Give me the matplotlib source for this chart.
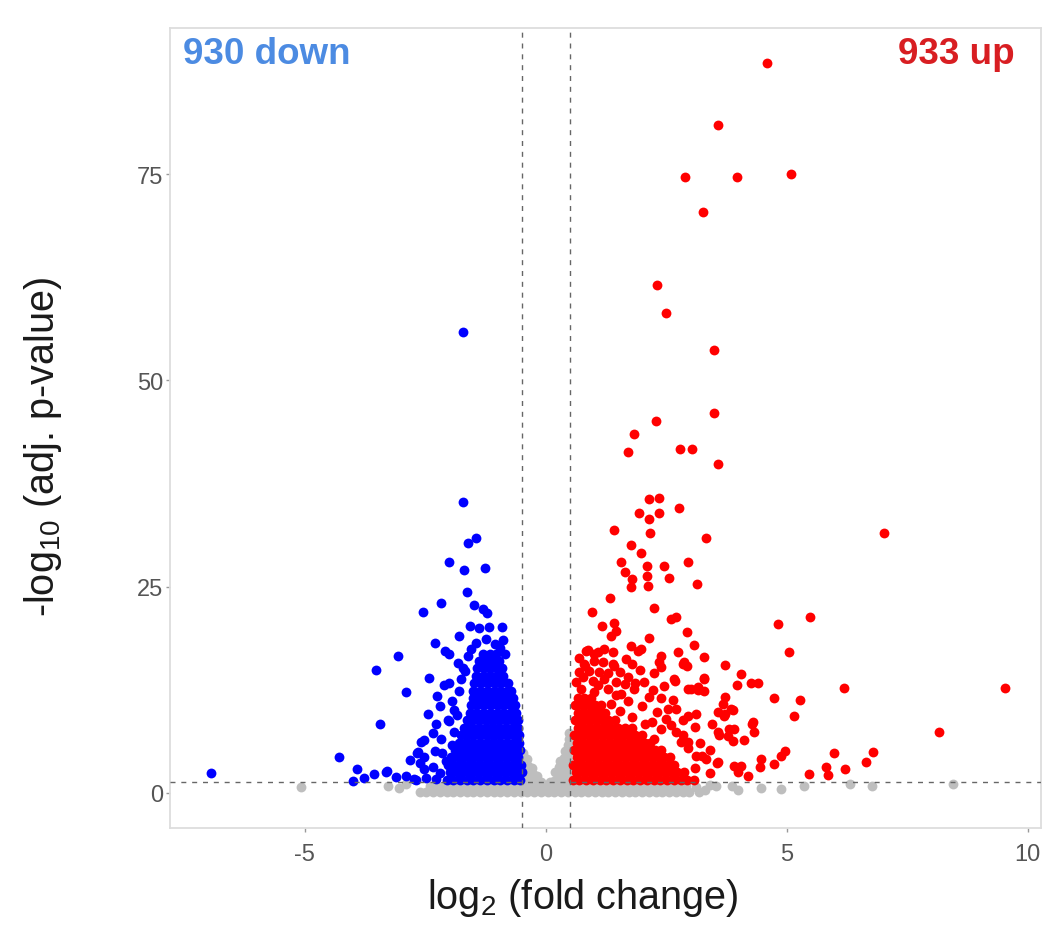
import matplotlib
import matplotlib.pyplot as plt

matplotlib.use('Agg')
plt.rcParams['font.family'] = ['Liberation Sans', 'DejaVu Sans']
plt.rcParams['mathtext.fontset'] = 'custom'
plt.rcParams['mathtext.rm'] = 'Liberation Sans'
plt.rcParams['axes.unicode_minus'] = False

# thresholds used for colouring
FC_CUT = 0.5
P_CUT = 1.3
n_down = 930
n_up = 933

# ---- up-regulated genes (log2 FC, -log10 adj p) ----
red_pts = [
    (4.59, 88.4), (3.57, 81.0), (2.88, 74.7), (3.96, 74.7), (5.10, 75.0), (3.26, 70.4),
    (2.30, 61.5), (2.49, 58.2), (3.49, 53.7), (3.49, 46.1), (2.28, 45.1), (1.83, 43.5),
    (1.70, 41.3), (2.78, 41.7), (3.03, 41.7), (3.57, 39.9), (7.03, 31.5), (3.32, 30.9),
    (2.14, 35.6), (2.34, 35.8), (1.93, 33.9), (2.14, 33.2), (2.36, 33.9), (2.76, 34.5),
    (1.41, 31.9), (2.16, 31.5), (1.76, 30.1), (1.97, 29.1), (1.56, 28.0), (2.10, 27.5),
    (2.45, 27.5), (2.95, 28.0), (1.64, 26.8), (1.80, 25.9), (2.10, 26.3), (2.12, 25.1),
    (1.76, 25.0), (2.55, 26.1), (3.13, 25.3), (1.33, 23.6), (2.24, 22.4), (0.95, 21.9),
    (2.59, 21.1), (2.70, 21.3), (1.16, 20.2), (1.41, 20.6), (1.45, 19.6), (1.35, 19.0),
    (2.93, 19.5), (2.14, 18.8), (4.83, 20.5), (5.48, 21.3), (3.07, 17.9), (0.87, 17.3),
    (1.08, 17.1), (1.76, 17.8), (1.91, 17.2), (2.74, 17.1), (2.39, 16.6), (2.34, 15.9),
    (3.28, 16.5), (5.04, 17.1), (0.81, 15.4), (1.39, 15.6), (2.84, 15.6), (2.93, 15.4),
    (3.73, 15.5), (4.05, 14.4), (4.25, 13.3), (4.40, 13.3), (2.68, 13.6), (2.03, 13.5),
    (3.28, 13.9), (3.96, 13.1), (3.01, 12.6), (3.15, 12.5), (3.28, 12.4), (6.18, 12.7),
    (9.54, 12.7), (4.73, 11.5), (5.27, 11.3), (3.71, 11.6), (3.67, 10.8), (3.57, 9.8),
    (3.73, 9.6), (3.88, 10.1), (5.15, 9.3), (4.30, 8.6), (4.32, 7.4), (8.17, 7.4),
    (3.80, 7.8), (4.11, 6.4), (3.88, 6.3), (3.59, 7.0), (4.96, 5.1), (4.88, 4.5),
    (5.98, 4.8), (4.46, 4.1), (4.44, 3.2), (4.73, 3.5), (4.05, 3.3), (4.00, 2.5),
    (5.46, 2.3), (5.81, 3.2), (5.85, 2.2), (6.22, 2.9), (6.64, 3.8), (6.80, 5.0),
    (4.20, 2.0), (3.40, 2.4), (3.55, 3.6), (3.25, 4.5), (3.10, 3.0),
    (0.83, 17.2), (1.00, 16.8), (1.20, 17.5), (1.39, 17.1), (1.97, 17.5), (0.79, 15.6),
    (1.00, 16.0), (1.18, 15.9), (1.41, 15.4), (1.66, 16.2), (1.80, 15.6), (2.39, 15.3),
    (2.86, 15.9), (0.77, 14.1), (0.98, 13.6), (1.20, 13.8), (1.45, 13.5), (1.70, 14.1),
    (2.66, 13.8), (2.95, 12.6), (3.15, 12.8), (3.28, 13.8), (0.73, 12.6), (1.00, 12.2),
    (1.29, 12.6), (1.56, 12.0), (1.83, 12.6), (2.14, 11.6), (2.53, 10.2), (2.70, 10.2),
    (2.95, 9.3), (3.11, 9.6), (3.57, 7.4), (3.69, 9.3), (3.84, 10.2), (3.90, 7.8),
    (4.29, 8.4), (3.78, 6.9), (3.11, 4.5), (3.32, 4.1), (3.57, 3.8), (3.90, 3.3),
    (2.95, 6.2), (2.70, 7.4), (2.39, 7.8), (2.24, 6.5), (0.62, 13.4), (0.68, 14.6),
    (0.90, 14.8), (1.08, 13.1), (0.70, 16.3), (1.10, 14.6), (1.30, 14.5), (1.55, 14.6),
    (1.65, 13.2), (1.85, 13.3), (1.95, 14.9), (2.25, 14.5), (2.45, 13.0), (2.22, 12.5),
    (2.40, 11.5), (1.70, 11.2), (2.00, 10.5), (2.30, 9.8), (2.50, 9.0), (2.60, 8.2),
    (2.20, 8.6), (2.85, 7.0), (2.95, 5.5), (3.20, 6.0), (3.40, 5.2), (2.80, 6.2),
    (3.45, 8.3), (3.10, 8.0), (2.85, 8.8), (2.65, 11.3), (1.35, 10.8), (1.55, 9.9),
    (1.80, 9.2), (2.05, 8.4), (1.45, 11.9),
]

# dense up-regulated core, read row by row: (-log10 p, log2 FC values)
red_core = [
    (1.6, [0.56, 0.70, 0.84, 0.98, 1.12, 1.26, 1.40, 1.54, 1.68, 1.82, 1.96, 2.10,
           2.24, 2.38, 2.52, 2.66, 2.80, 2.94, 3.08]),
    (2.5, [0.63, 0.77, 0.91, 1.05, 1.19, 1.33, 1.47, 1.61, 1.75, 1.89, 2.03, 2.17,
           2.31, 2.45, 2.59, 2.73, 2.87]),
    (3.4, [0.57, 0.71, 0.85, 0.99, 1.13, 1.27, 1.41, 1.55, 1.69, 1.83, 1.97, 2.11,
           2.25, 2.39, 2.53, 2.67]),
    (4.3, [0.64, 0.78, 0.92, 1.06, 1.20, 1.34, 1.48, 1.62, 1.76, 1.90, 2.04, 2.18,
           2.32, 2.46, 2.58]),
    (5.2, [0.58, 0.72, 0.86, 1.00, 1.14, 1.28, 1.42, 1.56, 1.70, 1.84, 1.98, 2.12,
           2.26, 2.40]),
    (6.1, [0.65, 0.79, 0.93, 1.07, 1.21, 1.35, 1.49, 1.63, 1.77, 1.91, 2.05, 2.17]),
    (7.0, [0.59, 0.73, 0.87, 1.01, 1.15, 1.29, 1.43, 1.57, 1.71, 1.85, 1.99]),
    (7.9, [0.66, 0.80, 0.94, 1.08, 1.22, 1.36, 1.50, 1.64, 1.78]),
    (8.8, [0.60, 0.74, 0.88, 1.02, 1.16, 1.30, 1.44]),
    (9.7, [0.67, 0.81, 0.95, 1.09, 1.23]),
    (10.6, [0.61, 0.75, 0.89, 1.03, 1.15]),
    (11.5, [0.66, 0.80, 0.94]),
]

# ---- down-regulated genes ----
blue_pts = [
    (-1.72, 55.8), (-1.72, 35.3), (-1.45, 30.9), (-1.62, 30.3), (-2.01, 28.0), (-1.70, 27.0),
    (-1.27, 27.3), (-1.64, 24.4), (-2.18, 23.0), (-2.55, 21.9), (-1.49, 22.8), (-1.31, 22.3),
    (-1.22, 21.8), (-1.58, 20.2), (-1.39, 20.0), (-1.18, 20.1), (-0.91, 20.1), (-1.80, 19.0),
    (-2.30, 18.2), (-2.10, 17.2), (-2.01, 16.8), (-3.07, 16.6), (-1.83, 15.8), (-1.72, 15.2),
    (-2.43, 13.9), (-2.90, 12.2), (-2.12, 13.1), (-2.01, 13.3), (-3.53, 14.9), (-2.45, 9.6),
    (-2.03, 8.9), (-2.28, 8.4), (-2.53, 6.4), (-2.82, 4.0), (-3.32, 2.5), (-3.44, 8.4),
    (-6.95, 2.4), (-4.29, 4.4), (-3.92, 2.9), (-4.00, 1.5), (-3.78, 1.8), (-3.57, 2.3),
    (-3.30, 2.7), (-2.68, 4.9), (-2.70, 1.6), (-2.59, 6.2), (-2.66, 5.0), (-2.53, 4.4),
    (-2.30, 5.1), (-2.53, 2.9), (-2.49, 1.8), (-2.74, 1.7), (-2.28, 1.7), (-2.07, 3.9),
    (-2.01, 8.7), (-1.91, 7.4), (-2.18, 6.5), (-1.45, 18.2), (-1.25, 18.6), (-1.05, 18.0),
    (-0.95, 17.6), (-1.55, 17.5), (-2.20, 10.5), (-1.95, 11.2), (-1.80, 12.3), (-2.25, 11.8),
    (-1.90, 10.0), (-2.15, 4.8), (-2.35, 3.2), (-2.20, 2.4), (-1.95, 5.8), (-2.35, 7.3),
    (-2.60, 3.6), (-2.90, 2.1), (-3.10, 1.9), (-1.75, 13.8), (-1.68, 14.8), (-1.62, 16.6),
    (-1.85, 9.4), (-0.88, 18.5), (-0.85, 16.8),
]

blue_core = [
    (1.6, [-2.06, -1.92, -1.78, -1.64, -1.50, -1.36, -1.22, -1.08, -0.94, -0.80, -0.66, -0.53]),
    (2.5, [-1.99, -1.85, -1.71, -1.57, -1.43, -1.29, -1.15, -1.01, -0.87, -0.73, -0.59, -0.50]),
    (3.4, [-2.03, -1.90, -1.76, -1.62, -1.48, -1.34, -1.20, -1.06, -0.92, -0.78, -0.64, -0.52]),
    (4.3, [-1.97, -1.83, -1.69, -1.55, -1.41, -1.27, -1.13, -0.99, -0.85, -0.71, -0.57]),
    (5.2, [-1.88, -1.74, -1.60, -1.46, -1.32, -1.18, -1.04, -0.90, -0.76, -0.62, -0.53]),
    (6.1, [-1.81, -1.67, -1.53, -1.39, -1.25, -1.11, -0.97, -0.83, -0.69, -0.56]),
    (7.0, [-1.76, -1.62, -1.48, -1.34, -1.20, -1.06, -0.92, -0.78, -0.64, -0.55]),
    (7.9, [-1.69, -1.55, -1.41, -1.27, -1.13, -0.99, -0.85, -0.71, -0.58]),
    (8.8, [-1.64, -1.50, -1.36, -1.22, -1.08, -0.94, -0.80, -0.66, -0.57]),
    (9.7, [-1.58, -1.44, -1.30, -1.16, -1.02, -0.88, -0.74, -0.61]),
    (10.6, [-1.56, -1.42, -1.28, -1.14, -1.00, -0.86, -0.72, -0.63]),
    (11.5, [-1.52, -1.38, -1.24, -1.10, -0.96, -0.82, -0.68]),
    (12.4, [-1.50, -1.36, -1.22, -1.08, -0.94, -0.80, -0.72]),
    (13.3, [-1.48, -1.34, -1.20, -1.06, -0.92, -0.79]),
    (14.2, [-1.45, -1.31, -1.17, -1.03, -0.89]),
    (15.1, [-1.42, -1.28, -1.14, -1.00, -0.90]),
    (16.0, [-1.38, -1.24, -1.10, -0.97]),
    (16.9, [-1.30, -1.16, -1.03]),
]

# ---- not significant ----
grey_pts = [
    (-5.07, 0.7), (-3.27, 0.8), (-2.91, 1.1), (-3.05, 0.6), (3.12, 0.7), (3.54, 0.8),
    (3.86, 0.8), (4.47, 0.6), (4.88, 0.5), (5.37, 0.8), (6.31, 1.1), (6.77, 0.8),
    (8.45, 1.1), (3.30, 0.3), (3.40, 1.0), (4.00, 0.4),
    # the V between the fold-change cut-offs
    (-0.45, 1.3), (-0.45, 2.2), (-0.46, 3.1), (-0.46, 4.0), (-0.47, 4.9),
    (-0.36, 1.5), (-0.36, 2.4), (-0.37, 3.3), (-0.38, 4.1),
    (-0.27, 1.4), (-0.27, 2.3), (-0.29, 3.0), (-0.18, 1.5), (-0.19, 2.1), (-0.09, 1.3),
    (0.09, 1.3), (0.18, 1.5), (0.19, 2.5), (0.27, 1.4), (0.27, 2.3), (0.28, 3.2),
    (0.29, 3.9), (0.36, 1.5), (0.36, 2.4), (0.37, 3.3), (0.38, 4.2), (0.39, 5.1),
    (0.45, 1.3), (0.45, 2.2), (0.46, 3.1), (0.46, 4.0), (0.47, 4.9), (0.47, 5.8),
    (0.48, 6.6), (0.49, 7.3),
]

grey_band = [
    (0.15, [-2.62, -2.48, -2.34, -2.20, -2.06, -1.92, -1.78, -1.64, -1.50, -1.36, -1.22,
            -1.08, -0.94, -0.80, -0.66, -0.52, -0.38, -0.24, -0.10, 0.04, 0.18, 0.32,
            0.46, 0.60, 0.74, 0.88, 1.02, 1.16, 1.30, 1.44, 1.58, 1.72, 1.86, 2.00,
            2.14, 2.28, 2.42, 2.56, 2.70, 2.84, 2.98, 3.18]),
    (0.85, [-2.41, -2.27, -2.13, -1.99, -1.85, -1.71, -1.57, -1.43, -1.29, -1.15, -1.01,
            -0.87, -0.73, -0.59, -0.45, -0.31, -0.17, -0.03, 0.11, 0.25, 0.39, 0.53,
            0.67, 0.81, 0.95, 1.09, 1.23, 1.37, 1.51, 1.65, 1.79, 1.93, 2.07, 2.21,
            2.35, 2.49, 2.63, 2.77, 2.91]),
]


def unpack(points, rows):
    xs = [p[0] for p in points]
    ys = [p[1] for p in points]
    for y, row in rows:
        xs += row
        ys += [y] * len(row)
    return xs, ys


gx, gy = unpack(grey_pts, grey_band)
bx, by = unpack(blue_pts, blue_core)
rx, ry = unpack(red_pts, red_core)

fig = plt.figure(figsize=(10.42, 9.29), dpi=100)
ax = fig.add_axes([0.1631, 0.1076, 0.8360, 0.8612])

ax.scatter(gx, gy, s=50, c='#BEBEBE', linewidths=0, zorder=2)
ax.scatter(bx, by, s=50, c='#0000FF', linewidths=0, zorder=3)
ax.scatter(rx, ry, s=50, c='#FF0000', linewidths=0, zorder=4)

dash = (0, (3.6, 4.2))
ax.axvline(-FC_CUT, color='#666666', lw=1.0, ls=dash, zorder=5)
ax.axvline(FC_CUT, color='#666666', lw=1.0, ls=dash, zorder=5)
ax.axhline(P_CUT, color='#666666', lw=1.0, ls=dash, zorder=5)

ax.text(-7.52, 88.4, f'{n_down} down', color='#4C8BE2', fontsize=26.5,
        fontweight='bold', ha='left', va='baseline')
ax.text(9.74, 88.4, f'{n_up} up', color='#D81E22', fontsize=26.5,
        fontweight='bold', ha='right', va='baseline')

ax.set_xlim(-7.8, 10.28)
ax.set_ylim(-4.25, 92.7)
ax.set_xticks([-5, 0, 5, 10])
ax.set_yticks([0, 25, 50, 75])
for sp in ax.spines.values():
    sp.set_color('#DDDDDD')
    sp.set_linewidth(1.3)
ax.tick_params(axis='both', colors='#999999', length=3, width=1, labelsize=17,
               labelcolor='#555555')
ax.tick_params(axis='x', pad=8)
ax.tick_params(axis='y', pad=2)

ax.set_xlabel(r'log$_{\mathregular{2}}$ (fold change)', fontsize=28.5, color='#1A1A1A',
              labelpad=8)
ax.set_ylabel(r'-log$_{\mathregular{10}}$ (adj. p-value)', fontsize=28.5, color='#1A1A1A',
              labelpad=52)
ax.xaxis.label.set_x(0.474)
ax.yaxis.label.set_y(0.478)

plt.savefig('out.png', dpi=100)
